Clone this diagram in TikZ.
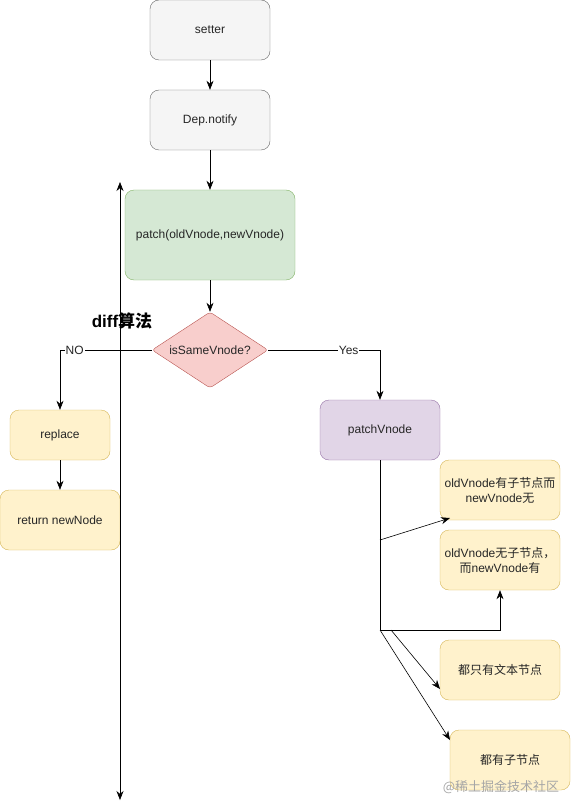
\documentclass[tikz,border=0pt]{standalone}
\usepackage{fontspec}
\setmainfont{Liberation Sans}
\newfontfamily\cjk{Noto Sans CJK SC}
\usepackage{xcolor}
\usepackage{tikz}
\usetikzlibrary{arrows.meta,positioning,shapes.geometric}
\definecolor{greyline}{HTML}{666666}
\definecolor{greyfill}{HTML}{F5F5F5}
\definecolor{greenline}{HTML}{82B366}
\definecolor{greenfill}{HTML}{D5E8D4}
\definecolor{redline}{HTML}{B85450}
\definecolor{redfill}{HTML}{F8CECC}
\definecolor{yellowline}{HTML}{D6B656}
\definecolor{yellowfill}{HTML}{FFF2CC}
\definecolor{purpleline}{HTML}{9673A6}
\definecolor{purplefill}{HTML}{E1D5E7}

\begin{document}
\begin{tikzpicture}[x=1pt, y=-1pt, every node/.style={font=\fontsize{12}{15}\selectfont, text=black!85}, box/.style={draw, rounded corners=9pt, align=center, minimum width=120pt, minimum height=60pt, inner sep=2pt}, greybox/.style={box, draw=greyline, fill=greyfill}, yellowbox/.style={box, draw=yellowline, fill=yellowfill}, arr/.style={-{Stealth[length=9pt,width=7pt]}, semithick}, lbl/.style={fill=white, inner sep=1pt}]
\useasboundingbox (0,0) rectangle (571,810);
\node[greybox] (setter) at (210,30) {setter};
\node[greybox] (depnotify) at (210,120) {Dep.notify};
\node[box, draw=greenline, fill=greenfill, minimum width=170pt, minimum height=90pt] (patch) at (210,235) {patch(oldVnode,newVnode)};
\node[diamond, draw=redline, fill=redfill, aspect=1.5, inner sep=0pt, minimum width=116pt, minimum height=76pt, rounded corners=3pt] (samevnode) at (210,350) {isSameVnode?};
\node[font=\bfseries\fontsize{17}{19}\selectfont, text=black] (difftitle) at (122,321) {diff{\cjk 算法}};
\node[yellowbox, minimum width=100pt, minimum height=50pt] (replace) at (60,435) {replace};
\node[yellowbox] (retnode) at (60,520) {return newNode};
\node[box, draw=purpleline, fill=purplefill] (pvnode) at (380,430) {patchVnode};
\node[yellowbox] (oldhas) at (500,490) {oldVnode{\cjk 有子节点而}\\newVnode{\cjk 无}};
\node[yellowbox] (newhas) at (500,560) {oldVnode{\cjk 无子节点，}\\{\cjk 而}newVnode{\cjk 有}};
\node[yellowbox] (textonly) at (500,670) {\cjk 都只有文本节点};
\node[yellowbox] (bothhas) at (510,760) {\cjk 都有子节点};
\node[text=black!35, font=\fontsize{13}{15}\selectfont] (watermark) at (501,787) {\cjk @稀土掘金技术社区};
% waypoints
\coordinate (axtop) at (120,182);
\coordinate (axbot) at (120,800);
\coordinate (bend1) at (380,540);
\coordinate (tip1) at (450,518);
\coordinate (fork) at (380,630);
\coordinate (fork2) at (391,630);
\coordinate (tip3) at (440,689);
\coordinate (tip4) at (450,740);
\draw[arr] (setter) -- (depnotify);
\draw[arr] (depnotify) -- (patch);
\draw[arr] (patch) -- (samevnode);
\draw[semithick, {Stealth[length=9pt,width=7pt]}-{Stealth[length=9pt,width=7pt]}] (axtop) -- (axbot);
\draw[arr] (samevnode.west) -| node[lbl, pos=0.42] {NO} (replace.north);
\draw[arr] (samevnode.east) -| node[lbl, pos=0.36] {Yes} (pvnode.north);
\draw[arr] (replace) -- (retnode);
\draw[semithick] (pvnode.south) -- (fork);
\draw[arr] (bend1) -- (tip1);
\draw[arr] (fork) -| (newhas.south);
\draw[arr] (fork2) -- (tip3);
\draw[arr] (fork) -- (tip4);
\end{tikzpicture}
\end{document}
